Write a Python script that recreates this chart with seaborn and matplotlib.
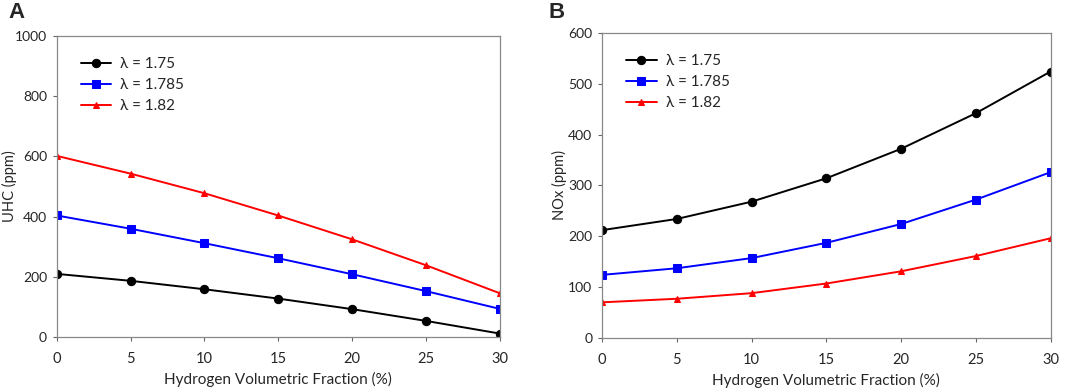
import pandas as pd
import numpy as np
import seaborn as sns
import matplotlib.pyplot as plt

# dados
fracao_h2 = [0, 5, 10, 15, 20, 25, 30]
rotulos = ['λ = 1.75', 'λ = 1.785', 'λ = 1.82']

uhc_175 = [210, 187, 159, 128, 93, 54, 12]
uhc_1785 = [404, 360, 312, 262, 209, 153, 94]
uhc_182 = [602, 543, 478, 404, 325, 239, 146]

nox_175 = [212, 234, 268, 314, 372, 442, 524]
nox_1785 = [124, 137, 157, 187, 224, 272, 326]
nox_182 = [70, 77, 88, 107, 131, 161, 196]

cores = ['black', '#0000ff', '#ff0000']
marcadores = ['o', 's', '^']
tam_marc = [6, 6, 5]

sns.set_style('white')
plt.rcParams['font.family'] = ['Lato', 'DejaVu Sans']

fig = plt.figure(figsize=(10.72, 3.92), dpi=100)
axA = fig.add_axes([0.053, 0.140, 0.413, 0.768])
axB = fig.add_axes([0.5616, 0.138, 0.4184, 0.778])


def desenha(ax, series, ymax, ystep, ylabel, xlab):
    for vals, lab, c, m, ms in zip(series, rotulos, cores, marcadores, tam_marc):
        df = pd.DataFrame({'x': fracao_h2, 'y': vals})
        sns.lineplot(data=df, x='x', y='y', ax=ax, color=c, marker=m,
                     markersize=ms, markeredgecolor=c, linewidth=1.4, label=lab)
    ax.set_xlim(0, 30)
    ax.set_ylim(0, ymax)
    ax.set_xticks(fracao_h2)
    ax.set_yticks(np.arange(0, ymax + 1, ystep))
    ax.set_xlabel('Hydrogen Volumetric Fraction (%)', fontsize=11, labelpad=4)
    ax.set_ylabel(ylabel, fontsize=10.5, va='center')
    ax.yaxis.set_label_coords(xlab, 0.5)
    ax.tick_params(axis='both', labelsize=10, direction='out', length=3,
                   width=0.8, color='#666666', bottom=True, left=True, pad=4)
    ax.tick_params(axis='x', labelsize=10.5, pad=8)
    for s in ax.spines.values():
        s.set_color('#888888')
        s.set_linewidth(0.9)
    ax.legend(loc='upper left', frameon=False, fontsize=11,
              handlelength=2.0, handletextpad=0.6, borderaxespad=0.0,
              labelspacing=0.45, bbox_to_anchor=(0.04, 0.95))


desenha(axA, [uhc_175, uhc_1785, uhc_182], 1000, 200, 'UHC (ppm)', -0.106)
desenha(axB, [nox_175, nox_1785, nox_182], 600, 100, 'NOx (ppm)', -0.096)

fig.text(0.008, 0.995, 'A', fontsize=16, fontweight='bold', va='top',
         family='Liberation Sans')
fig.text(0.512, 0.995, 'B', fontsize=16, fontweight='bold', va='top',
         family='Liberation Sans')

plt.savefig('out.png', dpi=100)
